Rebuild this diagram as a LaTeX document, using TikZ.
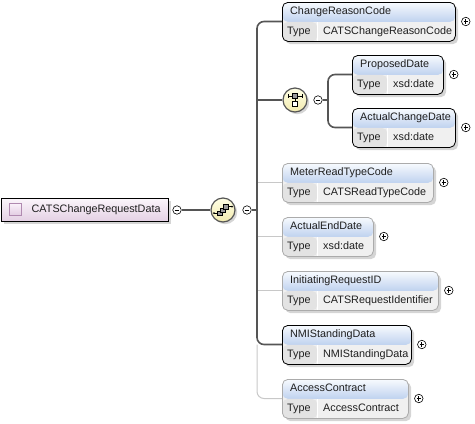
\documentclass[tikz,border=0pt]{standalone}
\usepackage{fontspec}
\setmainfont{Liberation Sans}
\usetikzlibrary{shadows}
\definecolor{hdrtop}{HTML}{F7FAFE}
\definecolor{hdrbot}{HTML}{BFD2EF}
\definecolor{typecell}{HTML}{E3E3E3}
\definecolor{valcell}{HTML}{F0F0F0}
\definecolor{optgray}{HTML}{ABABAB}
\definecolor{reqline}{HTML}{555555}
\definecolor{optline}{HTML}{C8C8C8}
\definecolor{roottop}{HTML}{FBF5FB}
\definecolor{rootbot}{HTML}{E4D0E4}
\definecolor{iconbord}{HTML}{B08AB0}
\definecolor{icontop}{HTML}{FAF2FA}
\definecolor{iconbot}{HTML}{E2CCE2}
\definecolor{seqtop}{HTML}{FFFFE6}
\definecolor{seqbot}{HTML}{F2EAAE}
\definecolor{sqgray}{HTML}{9A9A9A}
\tikzset{
  txt/.style={inner sep=0pt, anchor=west, text height=7.8pt, text depth=2.2pt,
    font=\fontsize{10.8}{12}\selectfont, text=black!88},
  elembox/.style={rounded corners=5.5pt, minimum height=39pt, inner sep=0pt,
    anchor=north west, line width=0.8pt,
    drop shadow={shadow xshift=2.8pt, shadow yshift=-2.8pt, fill=black!33},
    path picture={
      \fill[valcell] (path picture bounding box.north west) rectangle (path picture bounding box.south east);
      \shade[top color=hdrtop, bottom color=hdrbot] (path picture bounding box.north west)
        rectangle ([yshift=-19.5pt]path picture bounding box.north east);
      \fill[typecell] ([yshift=-19.5pt]path picture bounding box.north west)
        rectangle ([xshift=35pt]path picture bounding box.south west);
      \draw[white, line width=0.9pt] ([xshift=35pt,yshift=-19.5pt]path picture bounding box.north west)
        -- ([xshift=35pt]path picture bounding box.south west);
    }},
  reqbox/.style={draw=black},
  optbox/.style={draw=optgray},
  pmc/.style={circle, draw=black, fill=white, line width=0.6pt, minimum size=8.5pt, inner sep=0pt},
  pmplus/.style={pmc, path picture={
      \draw[line width=0.7pt] ([xshift=-2.3pt]path picture bounding box.center) -- ([xshift=2.3pt]path picture bounding box.center)
        ([yshift=-2.3pt]path picture bounding box.center) -- ([yshift=2.3pt]path picture bounding box.center);}},
  pmminus/.style={pmc, path picture={
      \draw[line width=0.7pt] ([xshift=-2.3pt]path picture bounding box.center) -- ([xshift=2.3pt]path picture bounding box.center);}},
  compositor/.style={circle, draw=reqline, line width=1.2pt, minimum size=24pt, inner sep=0pt,
    top color=seqtop, bottom color=seqbot,
    drop shadow={shadow xshift=2.2pt, shadow yshift=-2.2pt, fill=black!33}},
  rootbox/.style={draw=black, line width=0.9pt, minimum width=167pt, minimum height=23pt,
    anchor=north west, inner sep=0pt, top color=roottop, bottom color=rootbot,
    drop shadow={shadow xshift=2.8pt, shadow yshift=-2.8pt, fill=black!33}},
  rooticon/.style={draw=iconbord, line width=0.8pt, minimum size=12.5pt, inner sep=0pt,
    top color=icontop, bottom color=iconbot},
  req/.style={draw=reqline, line width=1.6pt},
  opt/.style={draw=optline, line width=1pt},
  sq/.style={draw=black, line width=0.5pt},
}
\newcommand\elem[7]{%
  \node[elembox,#5, minimum width=#4pt] (#1) at (#2,#3) {};
  \node[txt] (#1-n) at ([xshift=8pt,yshift=-10pt]#1.north west) {#6};
  \node[txt] (#1-t) at ([xshift=5pt,yshift=-29.5pt]#1.north west) {Type};
  \node[txt] (#1-v) at ([xshift=41pt,yshift=-29.5pt]#1.north west) {#7};
  \coordinate (#1-d) at ([yshift=-19.5pt]#1.north west);
  \node[pmplus] (#1-p) at ([xshift=10pt,yshift=-19.5pt]#1.north east) {};
}
\begin{document}
\begin{tikzpicture}[x=1pt,y=-1pt]
\useasboundingbox (0,0) rectangle (475,424);
\coordinate (vx) at (257,0);
\coordinate (cx) at (328,0);
% root
\node[rootbox] (root) at (1,198) {};
\node[rooticon] (ricon) at (15.5,209.5) {};
\node[txt] (rtxt) at (31.5,209.5) {CATSChangeRequestData};
\node[pmminus] (rootm) at (177,210) {};
% sequence
\node[compositor] (seq) at (223,210) {};
\node[pmminus] (seqm) at (247,210) {};
\begin{scope}[shift={(seq.center)}]
  \draw[line width=0.6pt] (-9,3) -- (-5,3);
  \fill (-9,3) circle (1pt);
  \draw[line width=0.6pt] (5,-3.5) -- (9,-3.5);
  \fill (9,-3.5) circle (1pt);
  \filldraw[sq, fill=sqgray] (-5.5,0.8) rectangle (-1,5.3);
  \filldraw[sq, fill=sqgray] (-2.5,-2.2) rectangle (2,2.3);
  \filldraw[sq, fill=sqgray] (0.5,-5.5) rectangle (5,-1);
\end{scope}
% choice
\node[compositor] (cho) at (295,100) {};
\node[pmminus] (chom) at (318,100) {};
\begin{scope}[shift={(cho.center)}]
  \draw[line width=0.6pt] (-7,-4) -- (7,-4) (-7,-5.8) -- (-7,-2.2) (7,-5.8) -- (7,-2.2);
  \draw[line width=0.6pt] (0,-4) -- (0,1.5);
  \filldraw[sq, fill=sqgray] (-2.5,-6.5) rectangle (2.5,-1.5);
  \filldraw[sq, fill=white] (-2.5,1.5) rectangle (2.5,6.5);
\end{scope}
% elements
\elem{crc}{282}{2}{173}{reqbox}{ChangeReasonCode}{CATSChangeReasonCode}
\elem{pd}{352}{55}{91}{reqbox}{ProposedDate}{xsd:date}
\elem{acd}{352}{108}{103}{reqbox}{ActualChangeDate}{xsd:date}
\elem{mrt}{282}{163}{151}{optbox}{MeterReadTypeCode}{CATSReadTypeCode}
\elem{aed}{282}{217}{91}{optbox}{ActualEndDate}{xsd:date}
\elem{iri}{282}{271}{156}{optbox}{InitiatingRequestID}{CATSRequestIdentifier}
\elem{nmi}{282}{325}{129}{reqbox}{NMIStandingData}{NMIStandingData}
\elem{ac}{282}{379}{126}{optbox}{AccessContract}{AccessContract}
% connectors
\draw[req] (rootm.east) -- (seq.west);
\draw[req] (seqm.east) -- (vx |- seqm);
\draw[opt, rounded corners=7pt] (vx |- nmi-d) |- (ac-d);
\draw[opt] (vx |- mrt-d) -- (mrt-d);
\draw[opt] (vx |- aed-d) -- (aed-d);
\draw[opt] (vx |- iri-d) -- (iri-d);
\draw[req, rounded corners=7pt] (crc-d) -| (vx |- nmi-d) -- (nmi-d);
\draw[req] (vx |- cho) -- (cho.west);
\draw[req] (chom.east) -- (cx |- chom);
\draw[req, rounded corners=7pt] (pd-d) -| (cx |- acd-d) -- (acd-d);
\end{tikzpicture}
\end{document}
